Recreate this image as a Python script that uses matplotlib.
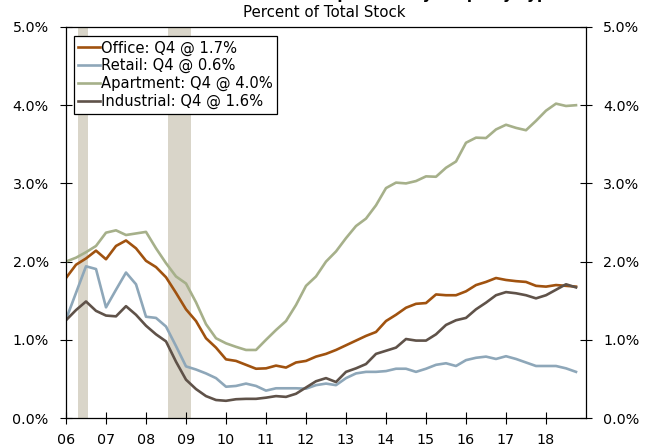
import numpy as np
import matplotlib
matplotlib.use('Agg')
import matplotlib.pyplot as plt
from matplotlib.ticker import FuncFormatter, MultipleLocator

# Quarterly data, Q1 2006 - Q4 2018, percent of total stock
office = [1.79, 1.96, 2.04, 2.14, 2.03, 2.20, 2.27, 2.17, 2.01, 1.93, 1.80, 1.60, 1.39,
          1.24, 1.02, 0.90, 0.75, 0.73, 0.68, 0.63, 0.635, 0.67, 0.645, 0.71, 0.73, 0.785,
          0.82, 0.87, 0.93, 0.99, 1.05, 1.10, 1.24, 1.32, 1.41, 1.46, 1.47, 1.58, 1.57,
          1.57, 1.62, 1.70, 1.74, 1.79, 1.765, 1.75, 1.74, 1.69, 1.68, 1.70, 1.69, 1.68]
retail = [1.26, 1.60, 1.94, 1.905, 1.415, 1.64, 1.86, 1.71, 1.295, 1.28, 1.17, 0.92, 0.66,
          0.62, 0.57, 0.51, 0.40, 0.41, 0.44, 0.41, 0.35, 0.38, 0.38, 0.38, 0.375, 0.42,
          0.44, 0.42, 0.51, 0.57, 0.59, 0.59, 0.60, 0.63, 0.63, 0.59, 0.63, 0.68, 0.70,
          0.665, 0.74, 0.77, 0.785, 0.755, 0.79, 0.755, 0.71, 0.665, 0.665, 0.665, 0.635, 0.59]
apartment = [2.00, 2.05, 2.12, 2.20, 2.37, 2.40, 2.34, 2.36, 2.38, 2.17, 1.98, 1.81, 1.72,
             1.48, 1.20, 1.02, 0.955, 0.91, 0.87, 0.87, 1.00, 1.125, 1.24, 1.445, 1.69, 1.81,
             2.00, 2.13, 2.30, 2.455, 2.55, 2.72, 2.94, 3.01, 3.00, 3.03, 3.09, 3.085, 3.20,
             3.28, 3.52, 3.585, 3.58, 3.69, 3.75, 3.71, 3.68, 3.80, 3.93, 4.02, 3.99, 4.00]
industrial = [1.25, 1.38, 1.49, 1.37, 1.31, 1.30, 1.43, 1.32, 1.18, 1.07, 0.98, 0.72, 0.49,
              0.37, 0.28, 0.23, 0.22, 0.24, 0.245, 0.245, 0.26, 0.28, 0.27, 0.31, 0.39, 0.47,
              0.51, 0.46, 0.59, 0.635, 0.69, 0.82, 0.86, 0.90, 1.01, 0.99, 0.99, 1.07, 1.19,
              1.25, 1.28, 1.39, 1.475, 1.57, 1.61, 1.595, 1.57, 1.53, 1.57, 1.64, 1.71, 1.67]
dates = 2006 + np.arange(len(office)) / 4.0

labels = ['Office: Q4 @ 1.7%', 'Retail: Q4 @ 0.6%',
          'Apartment: Q4 @ 4.0%', 'Industrial: Q4 @ 1.6%']
colors = ['#a0520f', '#8ea7b9', '#a6b08a', '#5f5249']

# shaded periods
shade_periods = [(2005.9, 2006.03), (2006.31, 2006.56), (2008.55, 2009.13)]

plt.rcParams['font.family'] = ['DejaVu Sans']
fig = plt.figure(figsize=(6.49, 4.46), dpi=100)
ax = fig.add_axes([66 / 649, 1 - 418 / 446, (586 - 66) / 649, (418 - 27) / 446])

for start, end in shade_periods:
    ax.axvspan(start, end, color='#d9d5c9', lw=0, zorder=0)

for series, lab, col in zip([office, retail, apartment, industrial], labels, colors):
    ax.plot(dates, series, color=col, lw=1.9, label=lab, zorder=2)

ax.set_xlim(2006, 2019)
ax.set_ylim(0, 5)
ax.yaxis.set_major_locator(MultipleLocator(1))
ax.yaxis.set_major_formatter(FuncFormatter(lambda v, p: f'{v:.1f}%'))
ax.set_xticks(range(2006, 2019))
ax.set_xticklabels([f'{y % 100:02d}' for y in range(2006, 2019)])
ax.tick_params(axis='y', direction='inout', length=9, width=0.8, labelsize=10.3,
               right=True, labelright=True, pad=8)
ax.tick_params(axis='x', direction='inout', length=9, width=0.8, labelsize=10.3, pad=6)
for sp in ax.spines.values():
    sp.set_linewidth(0.9)

leg = ax.legend(loc='upper left', bbox_to_anchor=(0.015, 0.977), fontsize=10.6,
                handlelength=1.5, handletextpad=0.05, labelspacing=0.18,
                borderpad=0.3, borderaxespad=0, fancybox=False, framealpha=1)
leg.get_frame().set_edgecolor('black')
leg.get_frame().set_linewidth(0.9)

# top title line is cropped in the original image, only descenders show
fig.text(0.5, 1.0 + 1.0 / 446, 'Commercial Real Estate Completions by Property Type',
         ha='center', va='baseline', fontsize=11, fontweight='bold')
fig.text(0.5, 1 - 12.5 / 446, 'Percent of Total Stock', ha='center', va='center', fontsize=10.8)

fig.savefig('out.png', dpi=100)
